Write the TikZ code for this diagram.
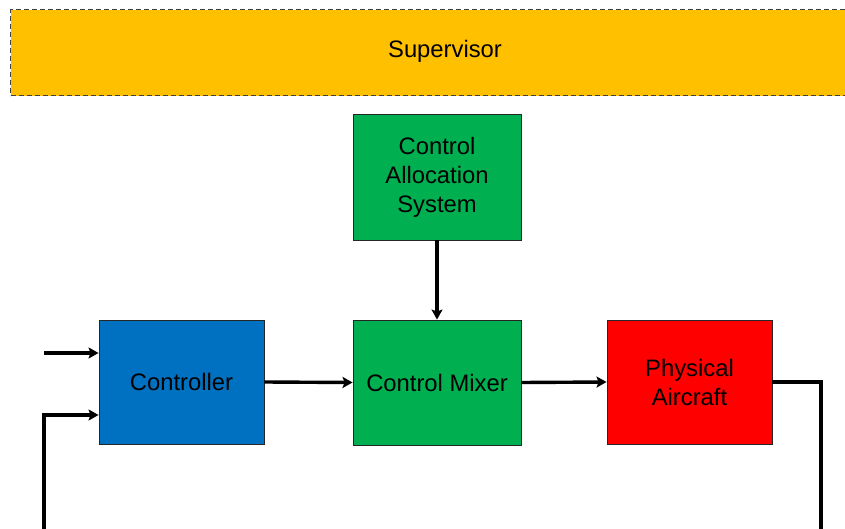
\documentclass[tikz,border=0pt]{standalone}
\usepackage{fontspec}
\setmainfont{Liberation Sans}
\usetikzlibrary{arrows.meta}
\definecolor{supfill}{HTML}{FFC000}
\definecolor{blockgreen}{HTML}{00B050}
\definecolor{blockblue}{HTML}{0070C0}
\definecolor{blockred}{HTML}{FF0000}
\begin{document}
\begin{tikzpicture}[x=1pt,y=-1pt,
  block/.style={draw=black!85, line width=0.9pt, inner sep=0pt, align=center,
    font=\fontsize{23.8}{29}\selectfont},
  flow/.style={line width=3.4pt, -{Stealth[length=10pt,width=11pt,inset=2pt]}},
  wire/.style={line width=3.4pt}]
\useasboundingbox (0,0) rectangle (845,529);
\begin{scope}
\clip (0,0) rectangle (845,529);
% supervisor band across the top
\node[draw=black!75, dashed, dash pattern=on 5pt off 3pt, line width=1.2pt, fill=supfill,
  minimum width=870pt, minimum height=86pt, inner sep=0pt, anchor=north west] (sup) at (10,9) {};
\node[font=\fontsize{23.8}{29}\selectfont] (suplabel) at (445,51) {Supervisor};

% blocks
\node[block, fill=blockgreen, minimum width=168pt, minimum height=126pt] (cas) at (437,177)
  {Control\\Allocation\\System};
\node[block, fill=blockblue, minimum width=165pt, minimum height=124pt] (ctrl) at (181.5,382) {Controller};
\node[block, fill=blockgreen, minimum width=168pt, minimum height=125pt] (mix) at (437,382.5) {Control Mixer};
\node[block, fill=blockred, minimum width=165pt, minimum height=124pt] (air) at (689.5,382) {Physical\\Aircraft};

% free ends of the signal lines
\coordinate (refin) at (44,353);
\coordinate (fbbot) at (44,540);
\coordinate (outbot) at (821,540);

% connectors
\draw[flow] (cas.south) -- (mix.north);
\draw[flow] (refin) -- (ctrl.west |- refin);
\draw[flow] (fbbot) |- (ctrl.west |- 0,415);
\draw[flow] (ctrl.east) -- (mix.west);
\draw[flow] (mix.east) -- (air.west);
\draw[wire] (air.east) -| (outbot);
\end{scope}
\end{tikzpicture}
\end{document}
